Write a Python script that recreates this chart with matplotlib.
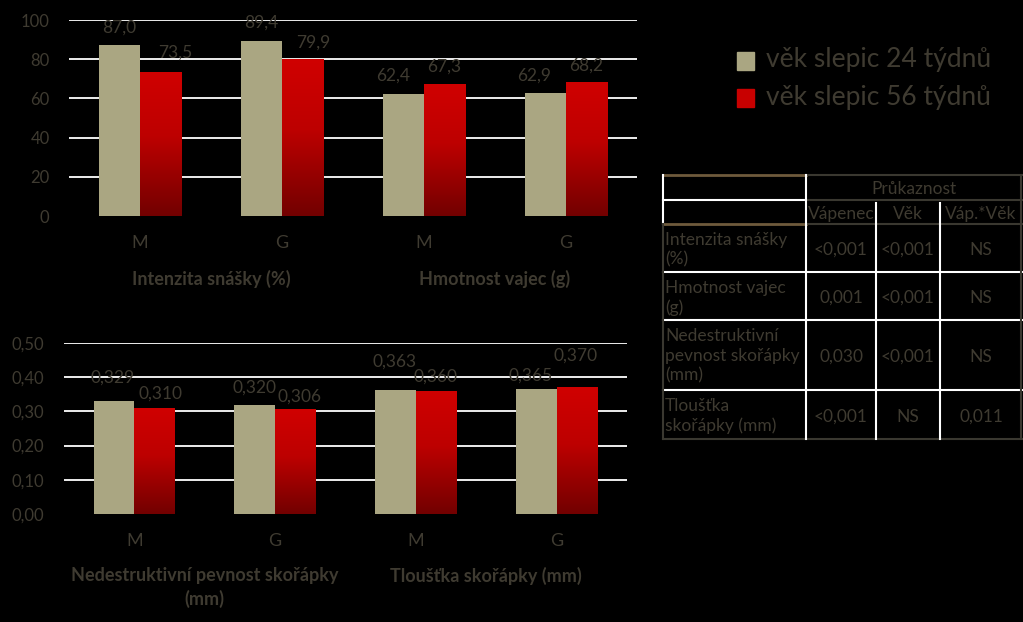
import numpy as np
import matplotlib
matplotlib.use('Agg')
import matplotlib.pyplot as plt
from matplotlib.colors import LinearSegmentedColormap
from matplotlib.patches import Rectangle

plt.rcParams['font.family'] = ['Lato', 'DejaVu Sans']

# data
cats = ['M', 'G', 'M', 'G']
series_names = ['věk slepic 24 týdnů', 'věk slepic 56 týdnů']

top_groups = ['Intenzita snášky (%)', 'Hmotnost vajec (g)']
top_24 = [87.0, 89.4, 62.4, 62.9]
top_56 = [73.5, 79.9, 67.3, 68.2]

bot_groups = ['Nedestruktivní pevnost skořápky\n(mm)', 'Tloušťka skořápky (mm)']
bot_24 = [0.329, 0.320, 0.363, 0.365]
bot_56 = [0.310, 0.306, 0.360, 0.370]

tab_head = 'Průkaznost'
tab_cols = ['Vápenec', 'Věk', 'Váp.*Věk']
tab_rows = ['Intenzita snášky\n(%)', 'Hmotnost vajec\n(g)',
            'Nedestruktivní\npevnost skořápky\n(mm)', 'Tloušťka\nskořápky (mm)']
tab_vals = [['<0,001', '<0,001', 'NS'],
            ['0,001', '<0,001', 'NS'],
            ['0,030', '<0,001', 'NS'],
            ['<0,001', 'NS', '0,011']]

# label nudges in pixels (dx, dy above bar top), as placed in the original
top_nudge_24 = [(0, 18), (0, 18), (-10, 18), (-11, 17)]
top_nudge_56 = [(15, 19), (11, 17), (0, 17), (0, 17)]
bot_nudge_24 = [(-1, 24), (0, 17), (-1, 28), (-6, 14)]
bot_nudge_56 = [(6, 14), (4, 13), (-1, 14), (-1, 32)]

TXT = '#3f3b31'
TAN = '#aaa682'
red_cmap = LinearSegmentedColormap.from_list(
    'redgrad', [(0, '#720000'), (0.55, '#bd0000'), (1, '#d00000')])

W, H = 1023, 622
fig = plt.figure(figsize=(W / 100, H / 100), dpi=100, facecolor='black')


def px_axes(x0, x1, ytop, ybot):
    return fig.add_axes([x0 / W, 1 - ybot / H, (x1 - x0) / W, (ybot - ytop) / H])


def bar_chart(ax, v24, v56, ymax, step, fmt, groups, n24, n56, ypad_grp):
    ax.set_facecolor('black')
    x = np.arange(len(cats))
    bw = 0.29
    ax.bar(x - bw / 2, v24, bw, color=TAN, zorder=3)
    reds = ax.bar(x + bw / 2, v56, bw, color='none', zorder=3)
    grad = np.linspace(0, 1, 256).reshape(-1, 1)
    for b in reds:
        im = ax.imshow(grad, cmap=red_cmap, origin='lower', aspect='auto', zorder=3,
                       extent=[b.get_x(), b.get_x() + b.get_width(), 0, b.get_height()])
        im.set_clip_path(b)
    ax.set_xlim(-0.5, len(cats) - 0.5)
    ax.set_ylim(0, ymax)
    yt = np.arange(0, ymax + step / 2, step)
    ax.set_yticks(yt)
    ax.set_yticklabels([fmt(v) for v in yt])
    for v in yt[1:]:
        ax.axhline(v, color='white', lw=1.3, zorder=1)
    ax.set_xticks(x)
    ax.set_xticklabels(cats)
    ax.tick_params(length=0, labelsize=12, colors=TXT)
    ax.tick_params(axis='x', pad=14, labelsize=13)
    ax.tick_params(axis='y', pad=14)
    for s in ax.spines.values():
        s.set_visible(False)
    lblfmt = (lambda v: f'{v:.1f}'.replace('.', ',')) if ymax > 1 else (lambda v: f'{v:.3f}'.replace('.', ','))
    for i in range(len(cats)):
        for val, off, (dx, dy) in ((v24[i], -bw / 2, n24[i]), (v56[i], bw / 2, n56[i])):
            ax.annotate(lblfmt(val), (i + off, val), xytext=(dx, dy),
                        textcoords='offset pixels', ha='center', va='center',
                        fontsize=12.5, color=TXT, zorder=5)
    for g, name in enumerate(groups):
        ax.annotate(name, (2 * g + 0.5, 0), xycoords=('data', 'axes fraction'),
                    xytext=(0, -ypad_grp), textcoords='offset pixels',
                    ha='center', va='top', fontsize=13, fontweight='bold',
                    color=TXT, linespacing=1.4)


ax1 = px_axes(69, 637, 20, 216)
bar_chart(ax1, top_24, top_56, 100, 20, lambda v: f'{v:.0f}', top_groups,
          top_nudge_24, top_nudge_56, 54)

ax2 = px_axes(64, 627, 343, 514)
bar_chart(ax2, bot_24, bot_56, 0.5, 0.1, lambda v: f'{v:.2f}'.replace('.', ','),
          bot_groups, bot_nudge_24, bot_nudge_56, 53)

# overlay in pixel coordinates for legend and table
ov = fig.add_axes([0, 0, 1, 1])
ov.set_xlim(0, W)
ov.set_ylim(H, 0)
ov.axis('off')
ov.patch.set_alpha(0)

for i, (name, c) in enumerate(zip(series_names, [TAN, '#c80000'])):
    yc = 61 + i * 37
    ov.add_patch(Rectangle((737, yc - 9), 17, 18, color=c))
    ov.text(766, yc - 1, name, fontsize=19, color=TXT, va='center', ha='left')

# table grid
xs = [663, 806, 876, 940, 1022]
ys = [175, 200, 224, 272, 320, 390, 439]
BROWN = '#6e5a3c'
GREY = '#3a3830'
LW = 1.5
ov.plot([xs[0], xs[1]], [ys[0], ys[0]], color=BROWN, lw=2)
ov.plot([xs[0], xs[1]], [ys[2], ys[2]], color=BROWN, lw=2)
ov.plot([xs[0], xs[1]], [ys[1], ys[1]], color='white', lw=LW)
ov.plot([xs[1], xs[4]], [ys[0], ys[0]], color=GREY, lw=LW)
ov.plot([xs[1], xs[4]], [ys[1], ys[1]], color=GREY, lw=LW)
ov.plot([xs[1], xs[4]], [ys[2], ys[2]], color=GREY, lw=LW)
for y in ys[3:6]:
    ov.plot([xs[0], xs[4]], [y, y], color='white', lw=LW)
ov.plot([xs[0], xs[4]], [ys[6], ys[6]], color=GREY, lw=LW)
ov.plot([xs[0], xs[0]], [ys[0], ys[2]], color='white', lw=LW)
ov.plot([xs[0], xs[0]], [ys[2], ys[6]], color=GREY, lw=LW)
ov.plot([xs[1], xs[1]], [ys[0], ys[6]], color='white', lw=LW)
for x in xs[2:4]:
    ov.plot([x, x], [ys[1] + 3, ys[6]], color='white', lw=LW)
ov.plot([xs[4] - 1, xs[4] - 1], [ys[0], ys[6]], color=GREY, lw=LW)

TFS = 12.5
ov.text((xs[1] + xs[4]) / 2, (ys[0] + ys[1]) / 2 + 1, tab_head, fontsize=TFS,
        color=TXT, ha='center', va='center')
for j, c in enumerate(tab_cols):
    ov.text((xs[j + 1] + xs[j + 2]) / 2, (ys[1] + ys[2]) / 2 + 2, c, fontsize=TFS,
            color=TXT, ha='center', va='center')
for i, r in enumerate(tab_rows):
    for k, line in enumerate(r.split('\n')):
        ov.text(xs[0] + 2, ys[i + 2] + 16 + k * 19.5, line, fontsize=TFS,
                color=TXT, ha='left', va='center')
    for j, v in enumerate(tab_vals[i]):
        ov.text((xs[j + 1] + xs[j + 2]) / 2, (ys[i + 2] + ys[i + 3]) / 2 + 2, v,
                fontsize=TFS, color=TXT, ha='center', va='center')

fig.savefig('out.png', dpi=100, facecolor='black')
